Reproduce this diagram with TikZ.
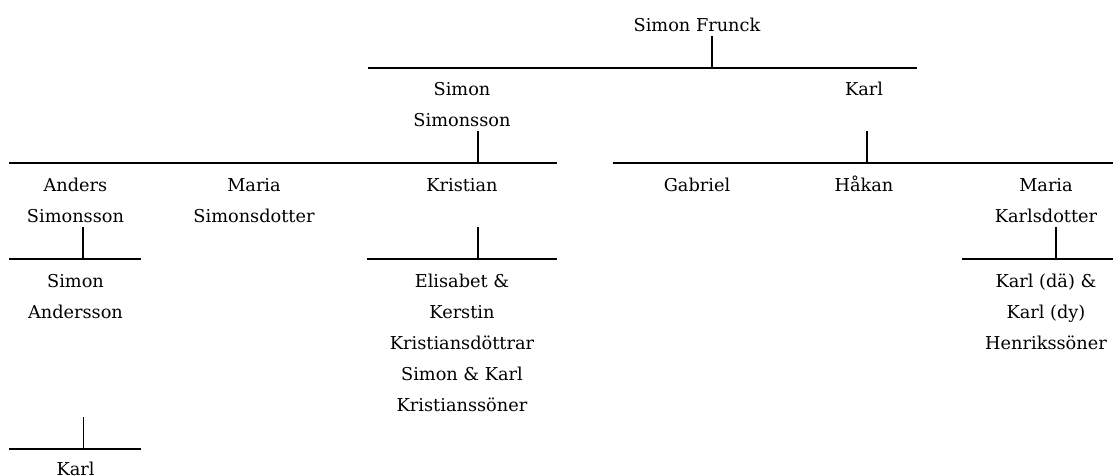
\documentclass[tikz,border=0pt]{standalone}
\usepackage{fontspec}
\setmainfont{DejaVu Serif}
\begin{document}
\begin{tikzpicture}[x=0.75pt,y=-0.75pt,
  lbl/.style={inner sep=0pt,anchor=base,align=center,font=\fontsize{13.3}{23.25}\selectfont},
  bar/.style={line width=1.5pt},
  stem/.style={line width=1.2pt},
  thinstem/.style={line width=0.75pt}]
\useasboundingbox (0,0) rectangle (1114,475);
% labels (anchored at the baseline of their last line; line pitch 31px)
\node[lbl] (sf) at (697,31) {Simon Frunck};
\node[lbl] (ss) at (462,126) {Simon\\Simonsson};
\node[lbl] (k) at (864,95) {Karl};
\node[lbl] (as) at (75.5,222) {Anders\\Simonsson};
\node[lbl] (ms) at (254,222) {Maria\\Simonsdotter};
\node[lbl] (kr) at (462,191) {Kristian};
\node[lbl] (ga) at (697,191) {Gabriel};
\node[lbl] (ha) at (864,191) {Håkan};
\node[lbl] (mk) at (1046,222) {Maria\\Karlsdotter};
\node[lbl] (sa) at (75.5,318) {Simon\\Andersson};
\node[lbl] (ek) at (462,411) {Elisabet \&\\Kerstin\\Kristiansdöttrar\\Simon \& Karl\\Kristianssöner};
\node[lbl] (kk) at (1046,349) {Karl (dä) \&\\Karl (dy)\\Henrikssöner};
\node[lbl] (ka) at (75.5,475) {Karl};
% junction coordinates
\coordinate (t0) at (712,36);  \coordinate (j0) at (712,68);
\coordinate (b0l) at (368,68); \coordinate (b0r) at (917,68);
\coordinate (t1) at (478,131); \coordinate (j1) at (478,163);
\coordinate (b1l) at (9,163);  \coordinate (b1r) at (557,163);
\coordinate (t2) at (867,131); \coordinate (j2) at (867,163);
\coordinate (b2l) at (613,163); \coordinate (b2r) at (1113,163);
\coordinate (t3) at (83,227);  \coordinate (j3) at (83,259);
\coordinate (b3l) at (9,259);  \coordinate (b3r) at (141,259);
\coordinate (t4) at (478,227); \coordinate (j4) at (478,259);
\coordinate (b4l) at (367,259); \coordinate (b4r) at (557,259);
\coordinate (t5) at (1056,227); \coordinate (j5) at (1056,259);
\coordinate (b5l) at (962,259); \coordinate (b5r) at (1113,259);
\coordinate (t6) at (83,417);  \coordinate (j6) at (83,449);
\coordinate (b6l) at (9,449);  \coordinate (b6r) at (141,449);
% connectors
\draw[stem] (t0) -- (j0); \draw[bar] (b0l) -- (b0r);
\draw[stem] (t1) -- (j1); \draw[bar] (b1l) -- (b1r);
\draw[stem] (t2) -- (j2); \draw[bar] (b2l) -- (b2r);
\draw[stem] (t3) -- (j3); \draw[bar] (b3l) -- (b3r);
\draw[stem] (t4) -- (j4); \draw[bar] (b4l) -- (b4r);
\draw[stem] (t5) -- (j5); \draw[bar] (b5l) -- (b5r);
\draw[thinstem] (t6) -- (j6); \draw[bar] (b6l) -- (b6r);
\end{tikzpicture}
\end{document}
